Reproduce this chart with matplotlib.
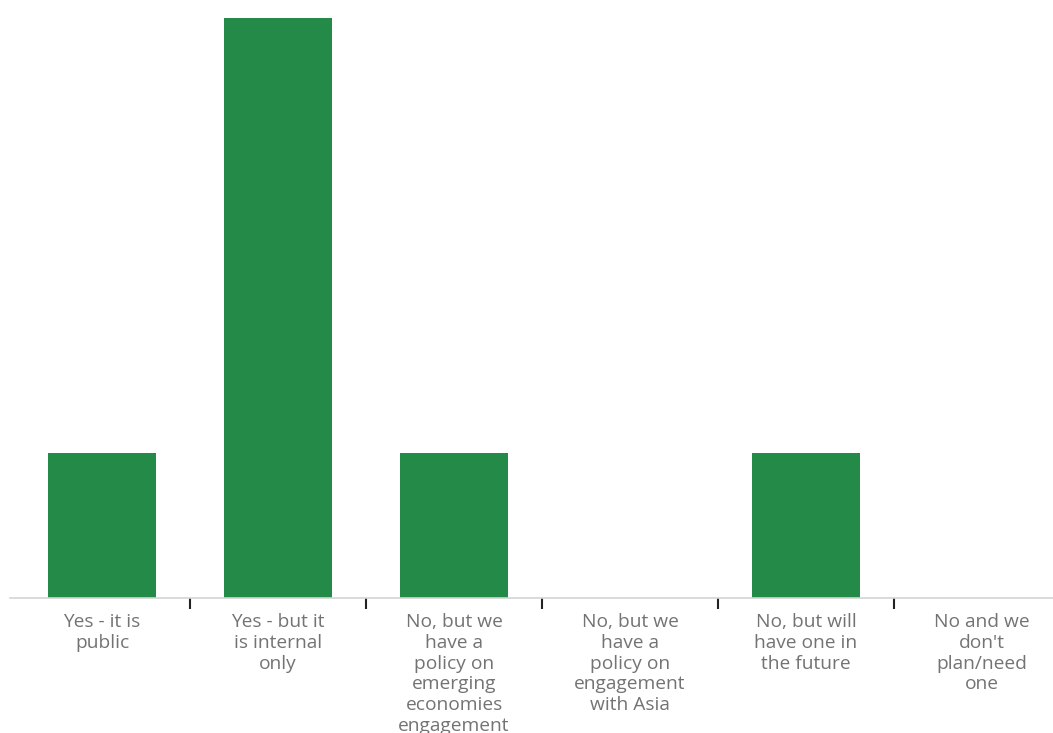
import numpy as np
import matplotlib.pyplot as plt

# survey answers and counts
categories = [
    "Yes - it is\npublic",
    "Yes - but it\nis internal\nonly",
    "No, but we\nhave a\npolicy on\nemerging\neconomies\nengagement",
    "No, but we\nhave a\npolicy on\nengagement\nwith Asia",
    "No, but will\nhave one in\nthe future",
    "No and we\ndon't\nplan/need\none",
]
counts = [1, 4, 1, 0, 1, 0]

W, H = 1053, 733
fig = plt.figure(figsize=(W / 100, H / 100), dpi=100)
# axes spans 6 slots of 176 px; right edge runs past the figure
ax = fig.add_axes([14 / W, (H - 598) / H, 1056 / W, 580 / H])
ax.spines["bottom"].set_bounds(-0.52, 6)

x = np.arange(len(categories))
ax.bar(x, counts, width=0.615, color="#248a48", zorder=2)

ax.set_xlim(-0.5, len(categories) - 0.5)
ax.set_ylim(0, 4)

for s in ["top", "right", "left"]:
    ax.spines[s].set_visible(False)
ax.spines["bottom"].set_color("#d4d4d4")
ax.spines["bottom"].set_linewidth(1.2)
ax.set_yticks([])

ax.set_xticks(x)
ax.set_xticklabels(categories, fontsize=13.8, color="#737373", linespacing=1.19,
                   family="Open Sans")
ax.tick_params(axis="x", which="major", length=0, pad=11)
ax.set_xticks(x[:-1] + 0.5, minor=True)
ax.tick_params(axis="x", which="minor", length=8, width=1.5, color="#222222",
               direction="out")

plt.savefig("out.png", dpi=100)
